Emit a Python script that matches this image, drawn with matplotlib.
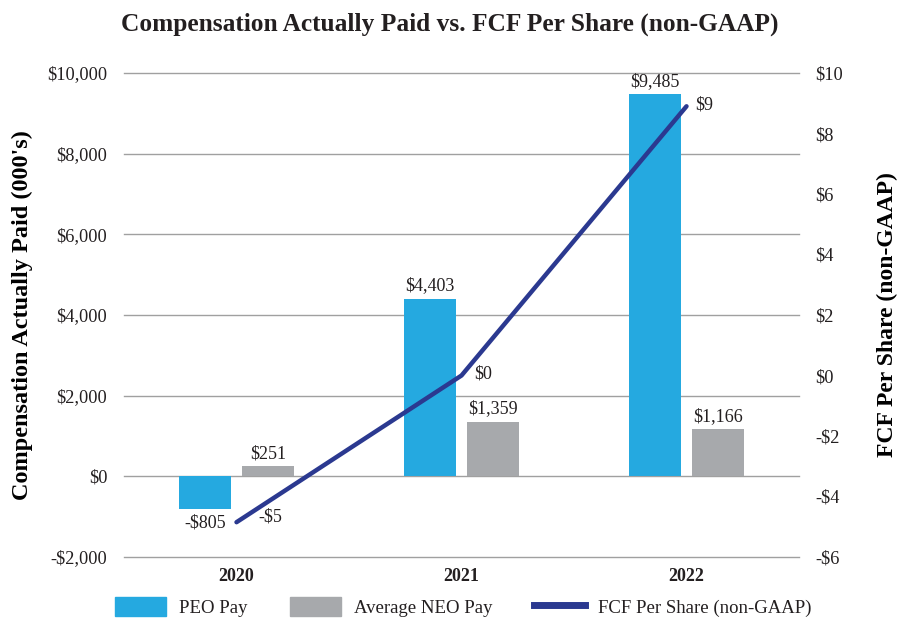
import numpy as np
import matplotlib
matplotlib.use("Agg")
import matplotlib.pyplot as plt
from matplotlib.patches import Patch
from matplotlib.lines import Line2D

#! data
years     = ["2020", "2021", "2022"]
peo_pay   = [-805, 4403, 9485]        # $000's
neo_pay   = [251, 1359, 1166]         # $000's
fcf_share = [-4.85, 0.0, 8.9]         # $ per share

#! colours
PEO_COLOR  = "#25A9E0"
NEO_COLOR  = "#A7A9AC"
LINE_COLOR = "#2B3990"
TEXT_COLOR = "#231F20"

plt.rcParams["font.family"] = ["Liberation Serif", "DejaVu Serif"]
plt.rcParams["text.color"] = TEXT_COLOR

fig = plt.figure(figsize=(8.99, 6.19), dpi=100)
ax = fig.add_axes([124 / 899, 1 - 557 / 619, (799 - 124) / 899, (557 - 73) / 619])
ax2 = ax.twinx()

x = np.arange(len(years))
width  = 0.228
offset = 0.140

# bars
ax.bar(x - offset, peo_pay, width, color=PEO_COLOR, zorder=3)
ax.bar(x + offset, neo_pay, width, color=NEO_COLOR, zorder=3)

for xi, v in zip(x - offset, peo_pay):
    lbl = f"-${abs(v):,}" if v < 0 else f"${v:,}"
    ax.annotate(lbl, (xi, v), xytext=(0, -4 if v < 0 else 3), textcoords="offset points",
                ha="center", va="top" if v < 0 else "bottom", fontsize=13, color=TEXT_COLOR)
for xi, v in zip(x + offset, neo_pay):
    ax.annotate(f"${v:,}", (xi, v), xytext=(0, 3), textcoords="offset points",
                ha="center", va="bottom", fontsize=13, color=TEXT_COLOR)

# line on secondary axis
ax2.plot(x, fcf_share, color=LINE_COLOR, lw=3.2, solid_capstyle="round", zorder=4)
line_lbl_offsets = [(16, 4), (9, 1), (6, 1)]   # points, label nudges
for xi, v, off in zip(x, fcf_share, line_lbl_offsets):
    r = int(round(v))
    lbl = f"-${abs(r)}" if r < 0 else f"${r}"
    ax2.annotate(lbl, (xi, v), xytext=off, textcoords="offset points",
                 ha="left", va="center", fontsize=13, color=TEXT_COLOR)

# axes
ax.set_xlim(-0.5, 2.5)
ax.set_ylim(-2000, 10000)
ax.set_yticks(np.arange(-2000, 10001, 2000))
ax.set_yticklabels([f"-${abs(t):,}" if t < 0 else f"${t:,}" for t in range(-2000, 10001, 2000)])
ax2.set_ylim(-6, 10)
ax2.set_yticks(np.arange(-6, 11, 2))
ax2.set_yticklabels([f"-${abs(t)}" if t < 0 else f"${t}" for t in range(-6, 11, 2)])

ax.set_xticks(x)
ax.set_xticklabels(years, fontweight="bold", fontsize=13)
ax.grid(axis="y", color="#A0A0A0", lw=1.0, zorder=0)
ax.set_axisbelow(True)
for gl in ax.get_ygridlines():
    gl.set_clip_on(False)   # keep the -2000 line full width

for a in (ax, ax2):
    for s in a.spines.values():
        s.set_visible(False)
ax.tick_params(axis="y", length=0, pad=12, labelsize=13.2, colors=TEXT_COLOR)
ax.tick_params(axis="x", length=0, pad=8, colors=TEXT_COLOR)
ax2.tick_params(axis="y", length=0, pad=12, labelsize=13.2, colors=TEXT_COLOR)

ax.set_ylabel("Compensation Actually Paid (000's)", fontsize=17.5, fontweight="bold", labelpad=10)
ax2.set_ylabel("FCF Per Share (non-GAAP)", fontsize=17, fontweight="bold", labelpad=24)

fig.suptitle("Compensation Actually Paid vs. FCF Per Share (non-GAAP)", x=0.5, y=1 - 24 / 619,
             va="center", fontsize=18.3, fontweight="bold")

# legend at the bottom
handles = [
    Patch(color=PEO_COLOR, label="PEO Pay"),
    Patch(color=NEO_COLOR, label="Average NEO Pay"),
    Line2D([0], [0], color=LINE_COLOR, lw=5, label="FCF Per Share (non-GAAP)"),
]
fig.legend(handles=handles, loc="center", bbox_to_anchor=(0.5156, 1 - 607 / 619), ncol=3,
           frameon=False, fontsize=13.5, handlelength=2.7, handleheight=1.2,
           columnspacing=2.25, handletextpad=0.7, borderpad=0)

fig.savefig("out.png", dpi=100)
